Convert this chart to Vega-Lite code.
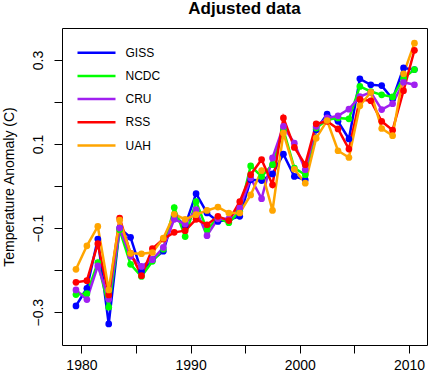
{
  "$schema": "https://vega.github.io/schema/vega-lite/v6.json",
  "width": 365,
  "height": 317,
  "autosize": "none",
  "padding": {"left": 62, "top": 28, "right": 1, "bottom": 27},
  "background": "white",
  "title": {"text": "Adjusted data", "font": "Liberation Sans", "fontSize": 17, "fontWeight": "bold", "anchor": "middle", "frame": "group", "baseline": "bottom", "offset": 12, "dy": 19, "color": "black"},
  "config": {
    "view": {"stroke": "black", "strokeWidth": 1},
    "axis": {"domain": false, "grid": false, "tickColor": "black", "labelColor": "black", "labelFont": "Liberation Sans", "labelFontSize": 14, "titleFont": "Liberation Sans", "titleColor": "black", "tickSize": 8}
  },
  "data": {"values": [
    {"year":1979.5,"series":"GISS","value":-0.285},{"year":1980.5,"series":"GISS","value":-0.243},{"year":1981.5,"series":"GISS","value":-0.126},{"year":1982.5,"series":"GISS","value":-0.328},{"year":1983.5,"series":"GISS","value":-0.100},{"year":1984.5,"series":"GISS","value":-0.122},{"year":1985.5,"series":"GISS","value":-0.203},{"year":1986.5,"series":"GISS","value":-0.175},{"year":1987.5,"series":"GISS","value":-0.155},{"year":1988.5,"series":"GISS","value":-0.070},{"year":1989.5,"series":"GISS","value":-0.094},{"year":1990.5,"series":"GISS","value":-0.018},{"year":1991.5,"series":"GISS","value":-0.064},{"year":1992.5,"series":"GISS","value":-0.084},{"year":1993.5,"series":"GISS","value":-0.080},{"year":1994.5,"series":"GISS","value":-0.072},{"year":1995.5,"series":"GISS","value":0.015},{"year":1996.5,"series":"GISS","value":0.013},{"year":1997.5,"series":"GISS","value":0.029},{"year":1998.5,"series":"GISS","value":0.076},{"year":1999.5,"series":"GISS","value":0.023},{"year":2000.5,"series":"GISS","value":0.015},{"year":2001.5,"series":"GISS","value":0.134},{"year":2002.5,"series":"GISS","value":0.171},{"year":2003.5,"series":"GISS","value":0.154},{"year":2004.5,"series":"GISS","value":0.112},{"year":2005.5,"series":"GISS","value":0.255},{"year":2006.5,"series":"GISS","value":0.241},{"year":2007.5,"series":"GISS","value":0.239},{"year":2008.5,"series":"GISS","value":0.207},{"year":2009.5,"series":"GISS","value":0.281},{"year":2010.5,"series":"GISS","value":0.277},
    {"year":1979.5,"series":"NCDC","value":-0.258},{"year":1980.5,"series":"NCDC","value":-0.256},{"year":1981.5,"series":"NCDC","value":-0.182},{"year":1982.5,"series":"NCDC","value":-0.288},{"year":1983.5,"series":"NCDC","value":-0.104},{"year":1984.5,"series":"NCDC","value":-0.186},{"year":1985.5,"series":"NCDC","value":-0.215},{"year":1986.5,"series":"NCDC","value":-0.179},{"year":1987.5,"series":"NCDC","value":-0.150},{"year":1988.5,"series":"NCDC","value":-0.051},{"year":1989.5,"series":"NCDC","value":-0.120},{"year":1990.5,"series":"NCDC","value":-0.037},{"year":1991.5,"series":"NCDC","value":-0.104},{"year":1992.5,"series":"NCDC","value":-0.076},{"year":1993.5,"series":"NCDC","value":-0.087},{"year":1994.5,"series":"NCDC","value":-0.060},{"year":1995.5,"series":"NCDC","value":0.048},{"year":1996.5,"series":"NCDC","value":0.023},{"year":1997.5,"series":"NCDC","value":0.051},{"year":1998.5,"series":"NCDC","value":0.134},{"year":1999.5,"series":"NCDC","value":0.043},{"year":2000.5,"series":"NCDC","value":0.027},{"year":2001.5,"series":"NCDC","value":0.138},{"year":2002.5,"series":"NCDC","value":0.158},{"year":2003.5,"series":"NCDC","value":0.162},{"year":2004.5,"series":"NCDC","value":0.160},{"year":2005.5,"series":"NCDC","value":0.237},{"year":2006.5,"series":"NCDC","value":0.225},{"year":2007.5,"series":"NCDC","value":0.217},{"year":2008.5,"series":"NCDC","value":0.212},{"year":2009.5,"series":"NCDC","value":0.257},{"year":2010.5,"series":"NCDC","value":0.277},
    {"year":1979.5,"series":"CRU","value":-0.247},{"year":1980.5,"series":"CRU","value":-0.270},{"year":1981.5,"series":"CRU","value":-0.190},{"year":1982.5,"series":"CRU","value":-0.269},{"year":1983.5,"series":"CRU","value":-0.100},{"year":1984.5,"series":"CRU","value":-0.167},{"year":1985.5,"series":"CRU","value":-0.191},{"year":1986.5,"series":"CRU","value":-0.175},{"year":1987.5,"series":"CRU","value":-0.146},{"year":1988.5,"series":"CRU","value":-0.079},{"year":1989.5,"series":"CRU","value":-0.090},{"year":1990.5,"series":"CRU","value":-0.056},{"year":1991.5,"series":"CRU","value":-0.118},{"year":1992.5,"series":"CRU","value":-0.078},{"year":1993.5,"series":"CRU","value":-0.078},{"year":1994.5,"series":"CRU","value":-0.052},{"year":1995.5,"series":"CRU","value":0.019},{"year":1996.5,"series":"CRU","value":-0.030},{"year":1997.5,"series":"CRU","value":0.067},{"year":1998.5,"series":"CRU","value":0.142},{"year":1999.5,"series":"CRU","value":0.102},{"year":2000.5,"series":"CRU","value":0.039},{"year":2001.5,"series":"CRU","value":0.142},{"year":2002.5,"series":"CRU","value":0.162},{"year":2003.5,"series":"CRU","value":0.167},{"year":2004.5,"series":"CRU","value":0.183},{"year":2005.5,"series":"CRU","value":0.213},{"year":2006.5,"series":"CRU","value":0.223},{"year":2007.5,"series":"CRU","value":0.182},{"year":2008.5,"series":"CRU","value":0.196},{"year":2009.5,"series":"CRU","value":0.247},{"year":2010.5,"series":"CRU","value":0.241},
    {"year":1979.5,"series":"RSS","value":-0.229},{"year":1980.5,"series":"RSS","value":-0.225},{"year":1981.5,"series":"RSS","value":-0.137},{"year":1982.5,"series":"RSS","value":-0.259},{"year":1983.5,"series":"RSS","value":-0.076},{"year":1984.5,"series":"RSS","value":-0.160},{"year":1985.5,"series":"RSS","value":-0.213},{"year":1986.5,"series":"RSS","value":-0.149},{"year":1987.5,"series":"RSS","value":-0.126},{"year":1988.5,"series":"RSS","value":-0.110},{"year":1989.5,"series":"RSS","value":-0.106},{"year":1990.5,"series":"RSS","value":-0.079},{"year":1991.5,"series":"RSS","value":-0.092},{"year":1992.5,"series":"RSS","value":-0.072},{"year":1993.5,"series":"RSS","value":-0.082},{"year":1994.5,"series":"RSS","value":-0.037},{"year":1995.5,"series":"RSS","value":0.027},{"year":1996.5,"series":"RSS","value":0.063},{"year":1997.5,"series":"RSS","value":0.003},{"year":1998.5,"series":"RSS","value":0.162},{"year":1999.5,"series":"RSS","value":0.092},{"year":2000.5,"series":"RSS","value":0.051},{"year":2001.5,"series":"RSS","value":0.148},{"year":2002.5,"series":"RSS","value":0.154},{"year":2003.5,"series":"RSS","value":0.136},{"year":2004.5,"series":"RSS","value":0.088},{"year":2005.5,"series":"RSS","value":0.206},{"year":2006.5,"series":"RSS","value":0.203},{"year":2007.5,"series":"RSS","value":0.154},{"year":2008.5,"series":"RSS","value":0.133},{"year":2009.5,"series":"RSS","value":0.227},{"year":2010.5,"series":"RSS","value":0.323},
    {"year":1979.5,"series":"UAH","value":-0.198},{"year":1980.5,"series":"UAH","value":-0.142},{"year":1981.5,"series":"UAH","value":-0.096},{"year":1982.5,"series":"UAH","value":-0.247},{"year":1983.5,"series":"UAH","value":-0.081},{"year":1984.5,"series":"UAH","value":-0.160},{"year":1985.5,"series":"UAH","value":-0.161},{"year":1986.5,"series":"UAH","value":-0.158},{"year":1987.5,"series":"UAH","value":-0.124},{"year":1988.5,"series":"UAH","value":-0.067},{"year":1989.5,"series":"UAH","value":-0.079},{"year":1990.5,"series":"UAH","value":-0.068},{"year":1991.5,"series":"UAH","value":-0.058},{"year":1992.5,"series":"UAH","value":-0.050},{"year":1993.5,"series":"UAH","value":-0.064},{"year":1994.5,"series":"UAH","value":-0.064},{"year":1995.5,"series":"UAH","value":-0.021},{"year":1996.5,"series":"UAH","value":0.037},{"year":1997.5,"series":"UAH","value":-0.058},{"year":1998.5,"series":"UAH","value":0.126},{"year":1999.5,"series":"UAH","value":0.040},{"year":2000.5,"series":"UAH","value":0.007},{"year":2001.5,"series":"UAH","value":0.114},{"year":2002.5,"series":"UAH","value":0.156},{"year":2003.5,"series":"UAH","value":0.084},{"year":2004.5,"series":"UAH","value":0.068},{"year":2005.5,"series":"UAH","value":0.191},{"year":2006.5,"series":"UAH","value":0.223},{"year":2007.5,"series":"UAH","value":0.137},{"year":2008.5,"series":"UAH","value":0.120},{"year":2009.5,"series":"UAH","value":0.267},{"year":2010.5,"series":"UAH","value":0.340}
  ]},
  "encoding": {
    "x": {"field": "year", "type": "quantitative", "scale": {"domain": [1978.22, 2011.65], "nice": false, "zero": false},
      "axis": {"title": null, "values": [1980, 1985, 1990, 1995, 2000, 2005, 2010], "labelExpr": "datum.value % 10 === 0 ? format(datum.value, 'd') : ''", "labelPadding": 5.5, "labelFlush": false, "labelOverlap": false}},
    "y": {"field": "value", "type": "quantitative", "scale": {"domain": [-0.378, 0.376], "nice": false, "zero": false},
      "axis": {"title": "Temperature Anomaly (C)", "titleFontWeight": "normal", "titleFontSize": 14, "titlePadding": 15, "values": [-0.3, -0.2, -0.1, 0, 0.1, 0.2, 0.3], "format": ".1f", "labelExpr": "abs(round(datum.value * 10)) % 2 === 1 ? datum.label : ''", "labelAngle": -90, "labelAlign": "center", "labelBaseline": "bottom", "labelPadding": 9, "labelFlush": false, "labelOverlap": false}}
  },
  "layer": [
    {
      "mark": {"type": "line", "strokeWidth": 2.5},
      "encoding": {
        "stroke": {"field": "series", "type": "nominal",
          "scale": {"domain": ["GISS", "NCDC", "CRU", "RSS", "UAH"], "range": ["#0000FF", "#00FF00", "#A020F0", "#FF0000", "#FFA500"]},
          "legend": {"title": null, "orient": "none", "legendX": 23.5, "legendY": 13.7, "padding": 0, "symbolType": "M-2,0H2", "symbolSize": 361, "symbolStrokeWidth": 2.5, "rowPadding": 6.2, "labelFont": "Liberation Sans", "labelFontSize": 12, "labelColor": "black", "labelOffset": 18}}
      }
    },
    {
      "mark": {"type": "point", "filled": true, "size": 45, "opacity": 1},
      "encoding": {
        "fill": {"field": "series", "type": "nominal",
          "scale": {"domain": ["GISS", "NCDC", "CRU", "RSS", "UAH"], "range": ["#0000FF", "#00FF00", "#A020F0", "#FF0000", "#FFA500"]},
          "legend": null}
      }
    }
  ]
}
